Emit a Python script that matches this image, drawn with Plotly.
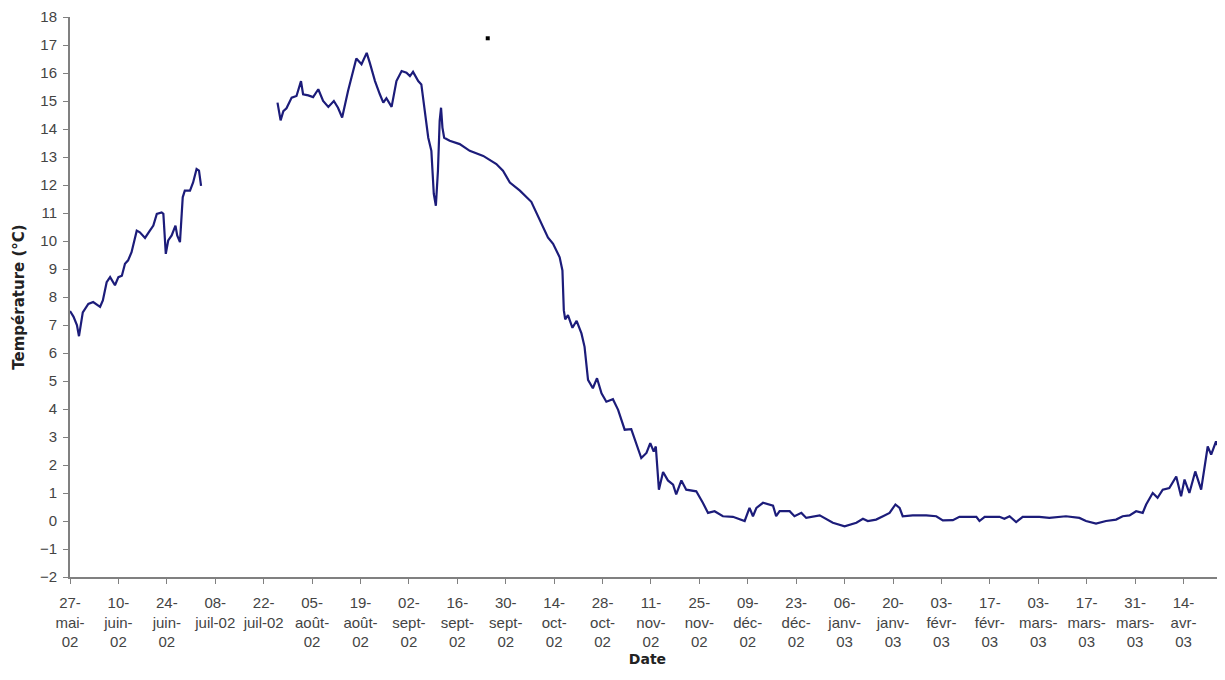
import datetime as dt
import plotly.graph_objects as go

START = dt.date(2002, 5, 27)

# Day offsets from 27-mai-02 and temperatures (°C)
seg1_days = [0, 1, 2, 2.6, 3.7, 5.3, 6.7, 8.7, 9.5, 10.6, 11.6, 13, 14, 15, 15.9, 16.8,
             17.8, 19.3, 20.2, 21.7, 23.1, 24.1, 25.1, 26.5, 27, 27.7, 28.4, 29.4, 30.5,
             31, 31.8, 32.6, 33.2, 34.7, 35.6, 36.6, 37.3, 37.9]
seg1_temp = [7.5, 7.3, 7.0, 6.6, 7.45, 7.75, 7.82, 7.65, 7.88, 8.53, 8.71, 8.42, 8.71,
             8.76, 9.19, 9.31, 9.6, 10.37, 10.31, 10.11, 10.37, 10.55, 10.97, 11.02,
             10.97, 9.54, 10.02, 10.2, 10.55, 10.2, 9.96, 11.56, 11.8, 11.8, 12.09,
             12.57, 12.51, 11.97]

seg2_days = [60.0, 60.9, 61.7, 62.6, 64.1, 65.5, 66.8, 67.4, 68.9, 70.3, 71.8, 73.2, 74.7,
             76.3, 77.5, 78.7, 80.4, 81.9, 82.8, 84.3, 85.8, 86.7, 88.2, 89.6, 90.6, 91.5,
             93.0, 94.4, 95.9, 97.3, 98.3, 99.2, 100.7, 101.6, 102.6, 103.6, 104.5, 105.2,
             105.8, 106.4, 106.9, 107.3, 107.7, 108.2, 109.8, 112.7, 115.6, 119.5, 123.3,
             125.2, 127.2, 130.1, 133.4, 136, 138.2, 139.7, 141.6, 142.4, 142.8, 143.2,
             144, 145.3, 146.5, 147.9, 148.8, 149.8, 151.2, 152.4, 153.7, 155.1, 157,
             158.5, 160.4, 162.3, 163.8, 165.2, 166.7, 167.8, 168.8, 169.4, 170.3, 171.5,
             172.9, 174.4, 175.3, 176.8, 178.2, 181.1, 183, 184.5, 186.4, 188.8, 191.7,
             195.1, 196.5, 197.5, 198.5, 200.4, 203.3, 204.2, 205.2, 208.1, 209.5, 211.5,
             212.9, 216.8, 220.6, 224, 227.4, 229.3, 230.7, 233.1, 235.1, 237, 238.7,
             239.9, 240.8, 243.7, 247.6, 250.5, 252.4, 255.3, 257.2, 262.1, 263, 264.5,
             268.8, 270.2, 271.7, 273.6, 275.5, 280.3, 283.2, 288, 291.9, 293.8, 296.7,
             299.6, 302.5, 304.4, 306.4, 308.3, 310.2, 311.2, 313.1, 314.5, 316, 317.9,
             319.9, 321.3, 322.3, 323.7, 325.4, 327.1, 329, 330, 331.4, 333.8]
seg2_temp = [14.94, 14.31, 14.64, 14.74, 15.12, 15.18, 15.71, 15.24, 15.2, 15.14, 15.42,
             15.0, 14.79, 15.0, 14.76, 14.41, 15.36, 16.07, 16.52, 16.31, 16.72, 16.36,
             15.71, 15.24, 14.94, 15.1, 14.79, 15.71, 16.07, 16.01, 15.89, 16.04, 15.71,
             15.59, 14.53, 13.69, 13.22, 11.68, 11.26, 12.51, 14.29, 14.76, 14.05, 13.69,
             13.58, 13.46, 13.22, 13.04, 12.75, 12.51, 12.09, 11.8, 11.4, 10.7, 10.13,
             9.9, 9.42, 8.95, 7.53, 7.2, 7.35, 6.9, 7.15, 6.7, 6.22, 5.04, 4.74, 5.1,
             4.56, 4.26, 4.35, 3.97, 3.26, 3.28, 2.78, 2.25, 2.43, 2.78, 2.48, 2.66, 1.12,
             1.75, 1.45, 1.3, 0.95, 1.45, 1.12, 1.06, 0.65, 0.29, 0.35, 0.17, 0.15, 0.0,
             0.47, 0.17, 0.47, 0.65, 0.55, 0.17, 0.35, 0.35, 0.17, 0.29, 0.11, 0.2, -0.06,
             -0.19, -0.06, 0.08, 0.0, 0.05, 0.17, 0.29, 0.59, 0.47, 0.17, 0.2, 0.2, 0.17,
             0.02, 0.03, 0.15, 0.15, 0.0, 0.15, 0.15, 0.08, 0.17, -0.04, 0.15, 0.15, 0.11,
             0.17, 0.11, 0.0, -0.09, 0.0, 0.05, 0.17, 0.2, 0.35, 0.29, 0.59, 1.0, 0.83,
             1.12, 1.18, 1.59, 0.88, 1.48, 1.0, 1.77, 1.12, 2.66, 2.37, 2.84, 2.25]

stray_day = [120.8]
stray_temp = [17.24]

tick_labels = ["27-<br>mai-<br>02", "10-<br>juin-<br>02", "24-<br>juin-<br>02",
               "08-<br>juil-02", "22-<br>juil-02", "05-<br>août-<br>02", "19-<br>août-<br>02",
               "02-<br>sept-<br>02", "16-<br>sept-<br>02", "30-<br>sept-<br>02",
               "14-<br>oct-<br>02", "28-<br>oct-<br>02", "11-<br>nov-<br>02",
               "25-<br>nov-<br>02", "09-<br>déc-<br>02", "23-<br>déc-<br>02",
               "06-<br>janv-<br>03", "20-<br>janv-<br>03", "03-<br>févr-<br>03",
               "17-<br>févr-<br>03", "03-<br>mars-<br>03", "17-<br>mars-<br>03",
               "31-<br>mars-<br>03", "14-<br>avr-<br>03"]
END_DAY = 334


def to_dt(d):
    return dt.datetime.combine(START, dt.time()) + dt.timedelta(days=d)


x = [to_dt(d) for d in seg1_days] + [to_dt(49)] + [to_dt(d) for d in seg2_days]
y = seg1_temp + [None] + seg2_temp

tick_vals = [to_dt(14 * i) for i in range(len(tick_labels))]

fig = go.Figure()
fig.add_trace(go.Scatter(x=x, y=y, mode="lines", connectgaps=False,
                         line=dict(color="#1c1c7a", width=2.2), showlegend=False))
fig.add_trace(go.Scatter(x=[to_dt(d) for d in stray_day], y=stray_temp, mode="markers",
                         marker=dict(symbol="square", size=4, color="black"),
                         showlegend=False))

tick_font = dict(family="'Liberation Sans', Arial, sans-serif", size=15, color="#444444")
title_font = dict(family="'DejaVu Sans', sans-serif", size=15, color="#222222")

fig.update_layout(
    width=1217, height=672,
    margin=dict(l=62, r=0, t=9, b=103),
    paper_bgcolor="white", plot_bgcolor="white",
)
fig.update_xaxes(
    range=[to_dt(0), to_dt(END_DAY)],
    tickmode="array", tickvals=tick_vals, ticktext=tick_labels, tickangle=0,
    showgrid=False, zeroline=False,
    showline=True, linecolor="#808080", linewidth=2,
    ticks="outside", ticklen=5, tickcolor="#808080",
    tickfont=tick_font, ticklabelstandoff=6,
    title=dict(text="<b>Date</b>", font=dict(title_font, size=14), standoff=5),
)
fig.update_yaxes(
    range=[-2, 18], dtick=1, tick0=0,
    showgrid=False, zeroline=False,
    showline=True, linecolor="#808080", linewidth=2,
    ticks="outside", ticklen=5, tickcolor="#808080",
    tickfont=tick_font, ticklabelstandoff=3,
    title=dict(text="<b>Température (°C)</b>", font=title_font, standoff=12),
)

fig.write_html("out.html")
